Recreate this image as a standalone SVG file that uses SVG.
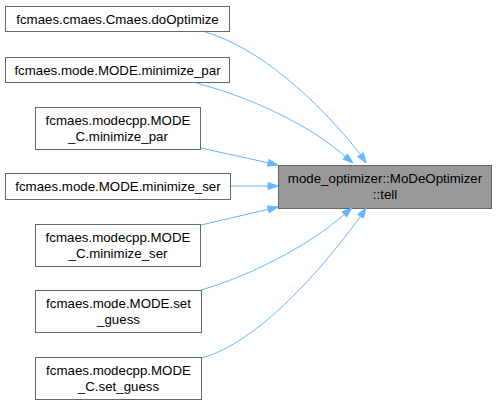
<svg xmlns="http://www.w3.org/2000/svg" width="496" height="405" viewBox="0 0 496 405">
<defs>
<style>
.n rect{fill:#ffffff;stroke:#666666;stroke-width:1}
.t rect{fill:#999999;stroke:#666666;stroke-width:1}
text{font-family:"Liberation Sans",Arial,sans-serif;font-size:13.3px;fill:#000000;text-anchor:middle}
.e path{fill:none;stroke:#63b8ff;stroke-width:1}
.e polygon{fill:#63b8ff;stroke:#63b8ff;stroke-width:1}
</style>
</defs>
<rect width="496" height="405" fill="#ffffff"/>
<g id="target" class="t">
<rect x="278.5" y="165.5" width="213" height="43"/>
<text x="385" y="183">mode_optimizer::MoDeOptimizer</text>
<text x="385" y="199">::tell</text>
</g>
<g id="node1" class="n">
<rect x="5.5" y="6.5" width="224" height="25"/>
<text x="117.5" y="23.5">fcmaes.cmaes.Cmaes.doOptimize</text>
</g>
<g id="node2" class="n">
<rect x="5.5" y="57.5" width="224" height="25"/>
<text x="117.5" y="74.5">fcmaes.mode.MODE.minimize_par</text>
</g>
<g id="node3" class="n">
<rect x="35.5" y="107.5" width="165" height="42"/>
<text x="118" y="124.5">fcmaes.modecpp.MODE</text>
<text x="118" y="140.5">_C.minimize_par</text>
</g>
<g id="node4" class="n">
<rect x="5.5" y="173.5" width="225" height="26"/>
<text x="118" y="191">fcmaes.mode.MODE.minimize_ser</text>
</g>
<g id="node5" class="n">
<rect x="35.5" y="224.5" width="165" height="42"/>
<text x="118" y="241.5">fcmaes.modecpp.MODE</text>
<text x="118" y="257.5">_C.minimize_ser</text>
</g>
<g id="node6" class="n">
<rect x="35.5" y="290.5" width="166" height="42"/>
<text x="118.5" y="307.5">fcmaes.mode.MODE.set</text>
<text x="118.5" y="323.5">_guess</text>
</g>
<g id="node7" class="n">
<rect x="35.5" y="357.5" width="166" height="42"/>
<text x="118.5" y="374.5">fcmaes.modecpp.MODE</text>
<text x="118.5" y="390.5">_C.set_guess</text>
</g>
<g id="edges" class="e">
<path d="M205,32 C258,47 318,100 360.5,154.7"/>
<polygon points="357.6,156.6 366,163 363.4,152.8"/>
<path d="M196,83 C250,97 310,125 345.3,156.6"/>
<polygon points="343.1,159.3 353,163 347.5,153.9"/>
<path d="M201,148 L268.2,162.8"/>
<polygon points="267.5,166.2 278,165 269,159.4"/>
<path d="M231,186 L268,186"/>
<polygon points="268,182.5 278,186 268,189.5"/>
<path d="M201,225 L268.3,209.3"/>
<polygon points="269.1,212.7 278,207 267.5,205.9"/>
<path d="M201,290 C250,276 310,245 344.3,214.4"/>
<polygon points="346.5,217.1 352,208 342.1,211.7"/>
<path d="M202,358 C258,342 320,272 360.5,216.3"/>
<polygon points="363.4,218.2 366,208 357.6,214.4"/>
</g>
</svg>
